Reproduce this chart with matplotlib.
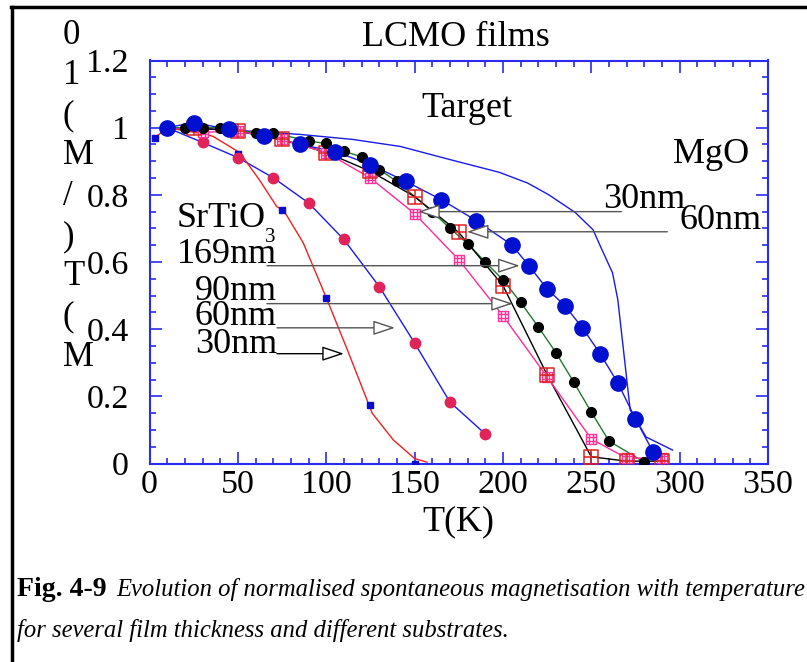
import numpy as np
import matplotlib
matplotlib.use("Agg")
import matplotlib.pyplot as plt
from matplotlib.path import Path
from matplotlib.lines import Line2D

plt.rcParams['font.family'] = ['Liberation Serif', 'DejaVu Serif']

# MgO substrate, 30 nm: continuous curve (no markers)
mgo30_T = [10, 50, 85, 115, 142, 170, 198, 214, 226, 241, 251, 256, 262, 265, 268, 272, 281, 296]
mgo30_M = [1.0, 0.992, 0.98, 0.965, 0.944, 0.905, 0.867, 0.835, 0.80, 0.747, 0.696, 0.637,
           0.568, 0.488, 0.348, 0.16, 0.079, 0.04]

# MgO substrate, 60 nm: big blue circles
mgo60_T = [10, 25, 45, 65, 85, 105, 125, 145, 165, 185, 205, 215, 225, 235, 245, 255, 265, 275, 285]
mgo60_M = [1.0, 1.015, 0.995, 0.974, 0.95, 0.929, 0.89, 0.84, 0.786, 0.723, 0.651, 0.587,
           0.52, 0.47, 0.404, 0.327, 0.24, 0.133, 0.034]

# Target: black circles on a green line
tgt_T = [10, 20, 30, 40, 60, 70, 90, 100, 110, 120, 130, 140, 160, 170, 180, 190, 200,
         210, 220, 230, 240, 250, 260, 280]
tgt_M = [1.0, 1.0, 1.0, 1.0, 0.985, 0.985, 0.96, 0.953, 0.93, 0.913, 0.875, 0.84, 0.75,
         0.70, 0.655, 0.60, 0.547, 0.48, 0.407, 0.33, 0.243, 0.153, 0.067, 0.004]

# SrTiO3 169 nm: large red hatched squares on a black line
st169_T = [25, 50, 75, 100, 125, 150, 175, 200, 225, 250, 270, 290]
st169_M = [1.0, 0.99, 0.965, 0.926, 0.87, 0.795, 0.688, 0.53, 0.264, 0.02, 0.007, 0.007]

# SrTiO3 90 nm: small pink hatched squares
st90_T = [10, 30, 50, 75, 100, 125, 150, 175, 200, 225, 250, 270, 290]
st90_M = [1.0, 0.986, 0.99, 0.965, 0.926, 0.85, 0.744, 0.607, 0.44, 0.258, 0.073, 0.016, 0.016]

# SrTiO3 60 nm: crimson circles on a blue line
st60_T = [10, 30, 50, 70, 90, 110, 130, 150, 170, 190]
st60_M = [1.0, 0.956, 0.911, 0.851, 0.776, 0.667, 0.527, 0.359, 0.183, 0.088]

# SrTiO3 30 nm: red measured curve and blue square samples
st30_curve_T = [3, 10, 32, 36, 51, 62, 72, 76, 87, 100, 112, 126, 138, 150, 157]
st30_curve_M = [0.97, 1.0, 0.98, 0.974, 0.926, 0.846, 0.765, 0.753, 0.657, 0.494, 0.338,
                0.15, 0.07, 0.015, 0.004]
st30_T = [3, 50, 75, 100, 125, 150]
st30_M = [0.97, 0.923, 0.755, 0.494, 0.175, 0.0]

x_ticks = [0, 50, 100, 150, 200, 250, 300, 350]
y_ticks = [0, 0.2, 0.4, 0.6, 0.8, 1.0, 1.2]
y_tick_labels = ['0', '0.2', '0.4', '0.6', '0.8', '1', '1.2']


def grid_square(n):
    """Square outline with (n-1) inner lines each way."""
    verts = [(-1, -1), (1, -1), (1, 1), (-1, 1), (-1, -1)]
    codes = [Path.MOVETO, Path.LINETO, Path.LINETO, Path.LINETO, Path.CLOSEPOLY]
    for k in range(1, n):
        p = -1 + 2.0 * k / n
        verts += [(p, -1), (p, 1), (-1, p), (1, p)]
        codes += [Path.MOVETO, Path.LINETO, Path.MOVETO, Path.LINETO]
    return Path(verts, codes)


fig = plt.figure(figsize=(8.07, 6.62), dpi=100)
ax = fig.add_axes([149.5 / 807, 1 - 463.5 / 662, (768 - 149.5) / 807, (463.5 - 60.5) / 662])

blue = '#1a1ae6'
# curves
ax.plot(mgo30_T, mgo30_M, color=blue, lw=1.0, zorder=2)
ax.plot(mgo60_T, mgo60_M, color=blue, lw=1.0, zorder=2)
ax.plot(tgt_T, tgt_M, color='#1e7a2e', lw=1.0, zorder=2)
ax.plot(st169_T, st169_M, color='black', lw=1.0, zorder=2)
ax.plot(st90_T, st90_M, color='#ff2a9a', lw=1.0, zorder=2)
ax.plot(st60_T, st60_M, color=blue, lw=1.0, zorder=2)
ax.plot(st30_curve_T, st30_curve_M, color='#ee2020', lw=1.0, zorder=2)

# markers
ax.plot(st30_T, st30_M, ls='none', marker='s', ms=5, color='#0a0ad0', zorder=4)
ax.plot(st60_T[1:], st60_M[1:], ls='none', marker='o', ms=7.5, color='#e0245a', zorder=4)
ax.plot(st90_T[1:], st90_M[1:], ls='none', marker=grid_square(3), ms=7, mfc='white',
        mec='#ff3399', mew=1.0, zorder=5)
ax.plot(st169_T, st169_M, ls='none', marker=grid_square(2), ms=10, mfc='none',
        mec='#dd2222', mew=1.1, zorder=5)
ax.plot(tgt_T[1:], tgt_M[1:], ls='none', marker='o', ms=7, color='black', zorder=6)
ax.plot(mgo60_T, mgo60_M, ls='none', marker='o', ms=11, color='#0010d0', zorder=7)

# labels and arrows
fs = 26
ax.text(179.6, 1.031, 'Target', fontsize=fs, ha='center', va='baseline')
ax.text(339.6, 0.896, 'MgO', fontsize=fs, ha='right', va='baseline')
ax.text(256.5, 0.762, '30nm', fontsize=fs, ha='left', va='baseline')
ax.text(300.0, 0.697, '60nm', fontsize=fs, ha='left', va='baseline')
ax.text(15.6, 0.705, 'SrTiO', fontsize=fs, ha='left', va='baseline')
ax.text(65.3, 0.66, '3', fontsize=15, ha='left', va='baseline')
for lbl, yb in [('169nm', 0.598), ('90nm', 0.488), ('60nm', 0.413), ('30nm', 0.33)]:
    ax.text(72.1, yb, lbl, fontsize=fs, ha='right', va='baseline')

arrows = [
    ((267, 0.750), (152, 0.750), '#555555'),
    ((293, 0.690), (179.6, 0.690), '#555555'),
    ((66.5, 0.589), (209.5, 0.589), '#555555'),
    ((66.5, 0.476), (205.6, 0.476), '#555555'),
    ((72.1, 0.404), (138.9, 0.404), '#555555'),
    ((72.1, 0.327), (110.0, 0.327), 'black'),
]
for tail, tip, c in arrows:
    ax.annotate('', xy=tip, xytext=tail, zorder=8,
                arrowprops=dict(arrowstyle='-|>,head_length=0.9,head_width=0.3',
                                mutation_scale=15, color=c, fc='white', ec=c,
                                lw=1.0, shrinkA=0, shrinkB=0))

# axes styling
ax.set_xlim(0, 350)
ax.set_ylim(0, 1.2)
ax.set_xticks(x_ticks)
ax.set_xticklabels([str(t) for t in x_ticks])
ax.set_yticks(y_ticks)
ax.set_yticklabels(y_tick_labels)
ax.set_xticks(np.arange(0, 351, 10), minor=True)
ax.set_yticks(np.arange(0, 1.21, 0.05), minor=True)
frame = '#2a2af0'
for s in ax.spines.values():
    s.set_color(frame)
    s.set_linewidth(1.5)
ax.tick_params(which='both', direction='in', top=True, right=True, color=frame, width=1.2)
ax.tick_params(which='major', length=8.5, labelsize=24.5)
ax.tick_params(which='minor', length=4.3)
ax.tick_params(axis='y', pad=15)
ax.tick_params(axis='x', pad=4)
ax.set_xlabel('T(K)', fontsize=fs, labelpad=4)

fig.text(456 / 807, 1 - 37 / 662, 'LCMO films', fontsize=fs, ha='center', va='center')

# vertical stacked y label
for i, ch in enumerate(['0', '1', '(', 'M', '/', ')', 'T', '(', 'M']):
    fig.text(63 / 807, 1 - (35 + 40.3 * i) / 662, ch, fontsize=25, ha='left', va='center')

# page frame
fig.add_artist(Line2D([11 / 807, 1], [1 - 6.5 / 662] * 2, color='black', lw=2.5))
fig.add_artist(Line2D([11.5 / 807] * 2, [0, 1 - 6.5 / 662], color='black', lw=2.5))

# caption
fig.text(17 / 807, 1 - 596 / 662, 'Fig. 4-9', fontsize=20, fontweight='bold', va='baseline')
fig.text(116 / 807, 1 - 596 / 662,
         'Evolution of normalised spontaneous magnetisation with temperature',
         fontsize=17.7, style='italic', va='baseline')
fig.text(17 / 807, 1 - 637 / 662, 'for several film thickness and different substrates.',
         fontsize=17.7, style='italic', va='baseline')

fig.savefig('out.png', dpi=100)
